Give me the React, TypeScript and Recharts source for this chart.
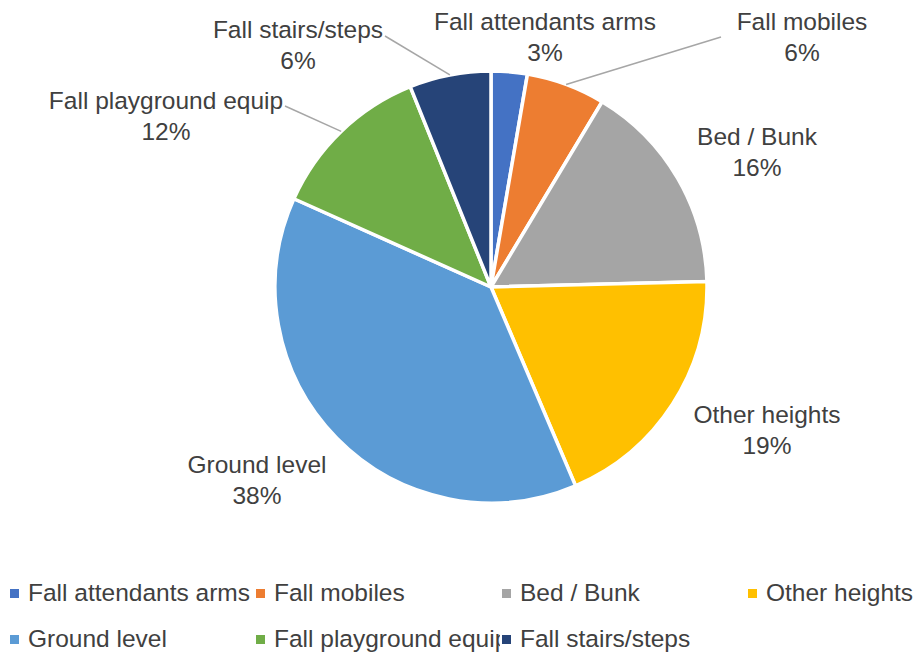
import React from 'react';
import { PieChart, Pie, Cell, Legend } from 'recharts';

const categories = [
  'Fall attendants arms',
  'Fall mobiles',
  'Bed / Bunk',
  'Other heights',
  'Ground level',
  'Fall playground equip',
  'Fall stairs/steps',
];
const shares = [2.7, 5.9, 16.0, 19.0, 38.1, 12.2, 6.1];
const colors = ['#4472C4', '#ED7D31', '#A5A5A5', '#FFC000', '#5B9BD5', '#70AD47', '#264478'];

// label layout: offsets from pie centre (text block centre), and optional leader end
const labelOffsets = [
  { dx: 54, dy: -250 },
  { dx: 311, dy: -250, lx: 230, ly: -250 },
  { dx: 266, dy: -135 },
  { dx: 276, dy: 143 },
  { dx: -234, dy: 193 },
  { dx: -325, dy: -171, lx: -206, ly: -181 },
  { dx: -193, dy: -242, lx: -106, ly: -251 },
];

const data = categories.map((name, i) => ({ name, value: shares[i] }));
const total = shares.reduce((a, b) => a + b, 0);

const FONT = '"Liberation Sans", Arial, sans-serif';
const TEXT = '#404040';

const RADIAN = Math.PI / 180;

const renderLabel = (props: any) => {
  const { cx, cy, midAngle, outerRadius, index, value } = props;
  const o = labelOffsets[index];
  const x = cx + o.dx;
  const y = cy + o.dy;
  const pct = Math.round((value / total) * 100) + '%';
  let line = null;
  if (o.lx !== undefined) {
    const sx = cx + outerRadius * Math.cos(-midAngle * RADIAN);
    const sy = cy + outerRadius * Math.sin(-midAngle * RADIAN);
    line = (
      <line x1={sx} y1={sy} x2={cx + o.lx} y2={cy + o.ly} stroke="#A6A6A6" strokeWidth={1.5} />
    );
  }
  return (
    <g key={'lbl' + index}>
      {line}
      <text x={x} y={y - 15.5} textAnchor="middle" dominantBaseline="central" fill={TEXT} fontSize={24.5} fontFamily={FONT}>
        {categories[index]}
      </text>
      <text x={x} y={y + 15.5} textAnchor="middle" dominantBaseline="central" fill={TEXT} fontSize={24.5} fontFamily={FONT}>
        {pct}
      </text>
    </g>
  );
};

const renderLegend = () => (
  <div style={{ display: 'flex', flexWrap: 'wrap', width: 990, fontFamily: FONT, fontSize: 24.5, color: TEXT }}>
    {categories.map((name, i) => (
      <div key={name} style={{ width: 246, height: 46, display: 'flex', alignItems: 'center', overflow: 'visible' }}>
        <span style={{ display: 'inline-block', width: 9, height: 9, background: colors[i], marginLeft: 10, marginRight: 9, flex: '0 0 auto' }} />
        <span style={{ whiteSpace: 'nowrap', overflow: 'hidden', width: 226, flex: '0 0 auto', lineHeight: '46px' }}>{name}</span>
      </div>
    ))}
  </div>
);

export default function App() {
  return (
    <div style={{ position: 'absolute', left: 0, top: 0, width: 916, height: 652, background: '#fff' }}>
      <PieChart width={916} height={652} margin={{ top: 0, right: 0, bottom: 0, left: 0 }}>
        <Pie
          data={data}
          dataKey="value"
          nameKey="name"
          cx={491}
          cy={287}
          outerRadius={216}
          startAngle={90}
          endAngle={-270}
          stroke="#FFFFFF"
          strokeWidth={3.5}
          label={renderLabel}
          labelLine={false}
          isAnimationActive={false}
        >
          {data.map((d, i) => (
            <Cell key={d.name} fill={colors[i]} />
          ))}
        </Pie>
        <Legend content={renderLegend} wrapperStyle={{ position: 'absolute', left: 0, top: 570, width: 916, height: 92 }} />
      </PieChart>
    </div>
  );
}
